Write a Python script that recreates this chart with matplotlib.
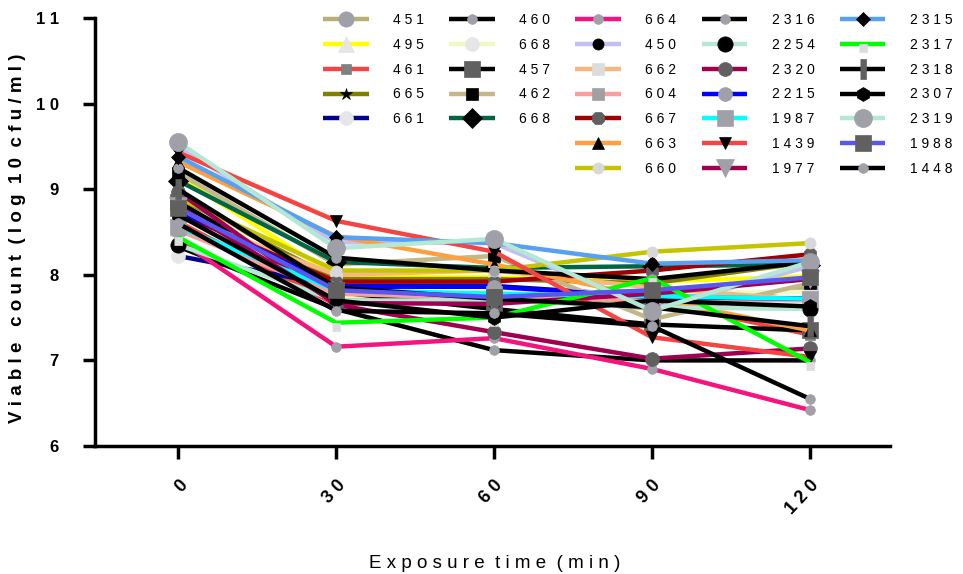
import numpy as np
import matplotlib
matplotlib.use('Agg')
import matplotlib.pyplot as plt
from matplotlib.lines import Line2D

plt.rcParams['font.family'] = ['Liberation Sans', 'DejaVu Sans']

time = [0, 30, 60, 90, 120]
xtick_labels = ['0', '30', '60', '90', '120']

# viable counts (log10 cfu/ml) per strain
s451 = [8.60, 7.72, 7.80, 7.60, 7.85]
s495 = [9.15, 7.98, 7.97, 7.92, 7.98]
s461 = [8.62, 7.65, 7.75, 7.70, 7.30]
s665 = [8.90, 7.95, 7.95, 7.90, 8.15]
s661 = [8.22, 7.87, 7.87, 7.75, 7.72]
s460 = [8.33, 7.60, 7.12, 7.00, 7.00]
s668a = [8.95, 7.75, 7.80, 7.80, 7.80]
s457 = [8.85, 7.80, 7.60, 7.42, 7.35]
s462 = [9.19, 8.12, 8.22, 7.48, 7.90]
s668b = [9.10, 8.15, 8.08, 8.10, 8.12]
s664 = [8.41, 7.16, 7.26, 6.90, 6.42]
s450 = [9.49, 8.38, 8.37, 7.60, 8.10]
s662 = [8.70, 8.00, 8.05, 7.85, 7.70]
s604 = [8.52, 7.78, 7.72, 7.72, 7.70]
s667 = [8.72, 7.92, 7.92, 8.05, 8.24]
s663 = [9.32, 8.45, 8.12, 7.73, 7.35]
s660 = [8.90, 8.05, 8.05, 8.27, 8.37]
s2316 = [9.25, 8.20, 8.05, 7.95, 8.15]
s2254 = [8.35, 7.70, 7.70, 7.62, 7.60]
s2320 = [8.97, 7.65, 7.33, 7.02, 7.14]
s2215 = [8.75, 7.86, 7.86, 7.74, 7.72]
s1987 = [8.56, 7.82, 7.78, 7.75, 7.72]
s1439 = [9.43, 8.63, 8.27, 7.27, 7.04]
s1977 = [8.80, 7.67, 7.66, 7.78, 7.95]
s2315 = [9.38, 8.44, 8.37, 8.13, 8.17]
s2317 = [8.44, 7.44, 7.50, 7.96, 6.98]
s2318 = [9.00, 7.85, 7.72, 7.62, 7.40]
s2307 = [8.70, 7.70, 7.50, 7.70, 7.63]
s2319 = [9.55, 8.31, 8.42, 7.58, 8.15]
s1988 = [8.78, 7.82, 7.74, 7.82, 7.97]
s1448 = [8.60, 7.58, 7.55, 7.40, 6.55]

rect_below = [(-0.5, -1), (0.5, -1), (0.5, 0), (-0.5, 0)]
bar = [(-0.3, -1), (0.3, -1), (0.3, 1), (-0.3, 1)]

# label, data, line colour, marker, marker colour, marker size
series = [
    ('451', s451, '#b8ae78', 'o', '#a0a0a8', 11),
    ('495', s495, '#ffff00', '^', '#e6e6e6', 12),
    ('461', s461, '#f44444', 's', '#808080', 7),
    ('665', s665, '#808000', '*', 'k', 9),
    ('661', s661, '#00008b', 'o', '#e6e6e6', 10),
    ('460', s460, 'k', 'o', '#a0a0a8', 7),
    ('668', s668a, '#f0f7c8', 'o', '#e6e6e6', 10),
    ('457', s457, 'k', 's', '#606060', 11),
    ('462', s462, '#c2b888', 's', 'k', 8),
    ('668', s668b, '#006644', 'D', 'k', 10),
    ('664', s664, '#f5137e', 'o', '#a0a0a8', 7),
    ('450', s450, '#c0c0f5', 'o', 'k', 8),
    ('662', s662, '#f5b880', 's', '#dcdcdc', 8),
    ('604', s604, '#f8a0a0', 's', '#a0a0a0', 8),
    ('667', s667, '#a00000', '8', '#606060', 10),
    ('663', s663, '#ffa040', '^', 'k', 8),
    ('660', s660, '#c4c400', 'o', '#d8d8d8', 8),
    ('2316', s2316, 'k', 'o', '#a0a0a8', 7),
    ('2254', s2254, '#b4e8d4', 'o', 'k', 11),
    ('2320', s2320, '#a00050', 'o', '#606060', 10),
    ('2215', s2215, '#0000ff', 'o', '#a0a0a8', 10),
    ('1987', s1987, '#00ffff', 's', '#a0a0a8', 11),
    ('1439', s1439, '#f44444', 'v', 'k', 8),
    ('1977', s1977, '#a00050', 'v', '#a0a0a8', 13),
    ('2315', s2315, '#58a0f0', 'D', 'k', 7),
    ('2317', s2317, '#00ff00', rect_below, '#dcdcdc', 11),
    ('2318', s2318, 'k', bar, '#606060', 14),
    ('2307', s2307, 'k', 'h', 'k', 10),
    ('2319', s2319, '#b4e8d4', 'o', '#a0a0a8', 13),
    ('1988', s1988, '#5858f0', 's', '#606060', 12),
    ('1448', s1448, 'k', 'o', '#a0a0a8', 7),
]


def spaced(s):
    return ' '.join(s)


def main():
    fig = plt.figure(figsize=(9.63, 5.74), dpi=100)
    ax = fig.add_axes([95/963, 1-446/574, (890-95)/963, (446-18)/574])

    handles = []
    for lab, y, lc, mk, mc, ms in series:
        h, = ax.plot(time, y, color=lc, lw=3.2, marker=mk, ms=ms,
                     mfc=mc, mec=mc, mew=0.5, label=spaced(lab),
                     solid_capstyle='butt')
        handles.append(h)

    blank = Line2D([], [], alpha=0)
    order = handles[0:5] + [blank, blank] + handles[5:10] + [blank, blank] + handles[10:]
    labels = [h.get_label() if h is not blank else '' for h in order]
    fig.legend(order, labels, ncol=5, loc='upper left',
               bbox_to_anchor=(316/963, 1-6/574), frameon=False,
               fontsize=10, numpoints=1, handlelength=3.3, handletextpad=1.75,
               columnspacing=1.8, labelspacing=0.78, borderpad=0)

    ax.set_xlim(-15.8, 135.2)
    ax.set_ylim(6, 11)
    ax.set_xticks(time)
    ax.set_xticklabels([spaced(t) for t in xtick_labels], rotation=47,
                       ha='right', va='top', rotation_mode='anchor',
                       fontsize=13, fontweight='bold')
    ax.set_yticks([6, 7, 8, 9, 10, 11])
    ax.set_yticklabels([spaced(str(v)) for v in [6, 7, 8, 9, 10, 11]],
                       fontsize=12, fontweight='bold')
    ax.tick_params(axis='both', width=2.5, length=9, direction='out')
    ax.tick_params(axis='x', pad=13)
    ax.tick_params(axis='y', pad=17)
    for s in ['top', 'right']:
        ax.spines[s].set_visible(False)
    for s in ['left', 'bottom']:
        ax.spines[s].set_linewidth(2.5)

    fig.text(18/963, 1-238/574, spaced('Viable count') + '  ' + spaced('(log') + '  ' +
             spaced('10') + '  ' + spaced('cfu/ml)'), rotation=90,
             ha='center', va='center', fontsize=13.5, fontweight='bold')
    fig.text(495/963, 1-563/574, spaced('Exposure') + '  ' + spaced('time') + '  ' +
             spaced('(min)'), ha='center', va='center', fontsize=13.5)

    fig.savefig('out.png', dpi=100)


if __name__ == '__main__':
    main()
